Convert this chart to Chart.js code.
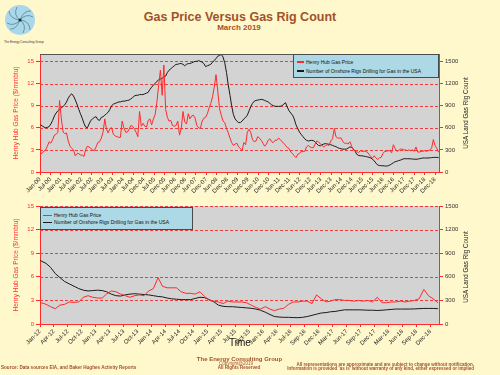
<!DOCTYPE html>
<html>
<head>
<meta charset="utf-8">
<script src="https://cdn.jsdelivr.net/npm/chart.js@4.4.1/dist/chart.umd.min.js"></script>
<style>
html,body{margin:0;padding:0;}
body{width:500px;height:375px;background:#FFF8CC;position:relative;overflow:hidden;font-family:"Liberation Sans",Arial,sans-serif;}
.abs{position:absolute;white-space:nowrap;}
.brown{color:#A0522D;}
.vt{position:absolute;white-space:nowrap;transform:translate(-50%,-50%) rotate(-90deg);line-height:1;}
.legend{position:absolute;background:#ADD8E6;border:1px solid #4a4a4a;box-sizing:border-box;}
.lgline{position:absolute;height:1.5px;}
.lgtext{position:absolute;font-size:5px;line-height:5px;color:#111;white-space:nowrap;}
canvas{position:absolute;left:0;}
</style>
</head>
<body>
<!-- logo -->
<svg class="abs" style="left:5px;top:5px" width="30" height="30" viewBox="0 0 30 30">
  <circle cx="15" cy="15" r="15" fill="#a9d8ea"/>
  <g fill="none" stroke="#2f4f5f" stroke-width="0.5">
    <path d="M15 15 Q 21 8 28 12"/>
    <path d="M15 15 Q 22 20 18 28"/>
    <path d="M15 15 Q 9 22 2 18"/>
    <path d="M15 15 Q 8 10 12 2"/>
    <path d="M15 15 Q 19 5 26 6"/>
    <path d="M15 15 Q 25 16 25 25"/>
    <path d="M15 15 Q 11 25 5 24"/>
    <path d="M15 15 Q 5 14 4 6"/>
  </g>
  <circle cx="15" cy="15" r="1.5" fill="#1c2c34"/>
</svg>
<div class="abs" style="left:4px;top:41px;font-size:3px;line-height:3px;color:#333;">The Energy Consulting Group</div>

<div class="abs brown" style="left:240px;top:16.5px;transform:translate(-50%,-50%);font-size:12.5px;font-weight:bold;line-height:1;">Gas Price Versus Gas Rig Count</div>
<div class="abs brown" style="left:239px;top:28px;transform:translate(-50%,-50%);font-size:8px;font-weight:bold;line-height:1;">March 2019</div>

<canvas id="topChart" width="500" height="200" style="top:0px"></canvas>
<canvas id="bottomChart" width="500" height="155" style="top:195px"></canvas>

<!-- axis titles -->
<div class="vt" style="left:15.5px;top:113px;font-size:6.5px;color:#FF3030;">Henry Hub Gas Price ($/mmbtu)</div>
<div class="vt" style="left:466px;top:113px;font-size:6.3px;color:#222;">USA Land Gas Rig Count</div>
<div class="vt" style="left:15.5px;top:265px;font-size:6.5px;color:#FF3030;">Henry Hub Gas Price ($/mmbtu)</div>
<div class="vt" style="left:466px;top:267px;font-size:6.3px;color:#222;">USA Land Gas Rig Count</div>
<div class="abs" style="left:240px;top:343px;transform:translate(-50%,-50%);font-size:10px;line-height:1;color:#111;">Time</div>

<!-- legends -->
<div class="legend" style="left:293px;top:54px;width:146px;height:24px;"></div>
<div class="lgline" style="left:297px;top:61px;width:7px;background:#FF2A2A;"></div>
<div class="lgtext" style="left:306px;top:59.5px;">Henry Hub Gas Price</div>
<div class="lgline" style="left:297px;top:70px;width:7px;background:#1a1a1a;"></div>
<div class="lgtext" style="left:306px;top:68.5px;">Number of Onshore Rigs Drilling for Gas in the USA</div>

<div class="legend" style="left:40px;top:207px;width:153px;height:23px;"></div>
<div class="lgline" style="left:43px;top:214.5px;width:9px;background:#FF2A2A;"></div>
<div class="lgtext" style="left:54px;top:212.5px;">Henry Hub Gas Price</div>
<div class="lgline" style="left:43px;top:221.5px;width:9px;background:#1a1a1a;"></div>
<div class="lgtext" style="left:54px;top:219.5px;">Number of Onshore Rigs Drilling for Gas in the USA</div>

<!-- footer -->
<div class="abs brown" style="left:1px;top:366px;font-size:4.6px;line-height:4.6px;font-weight:bold;">Source: Data sources EIA, and Baker Hughes Activity Reports</div>
<div class="abs brown" style="left:239.5px;top:359px;transform:translate(-50%,-50%);font-size:6px;line-height:1;font-weight:bold;">The Energy Consulting Group</div>
<div class="abs brown" style="left:236px;top:363.5px;transform:translate(-50%,-50%);font-size:4.5px;line-height:1;">Copyright@2019</div>
<div class="abs brown" style="left:239px;top:368px;transform:translate(-50%,-50%);font-size:4.5px;line-height:1;font-weight:bold;">All Rights Reserved</div>
<div class="abs brown" style="right:26px;top:363px;font-size:4.5px;line-height:4.5px;font-weight:bold;text-align:right;">All representations are approximate and are subject to change without notification.</div>
<div class="abs brown" style="right:26px;top:367px;font-size:4.5px;line-height:4.5px;font-weight:bold;text-align:right;">Information is provided 'as is' without warranty of any kind, either expressed or implied</div>

<script>
// ---------- DATA ----------
// monthly series, Jan 2000 .. Feb 2019
const gasPrice = [
  2.4, 2.6, 2.8, 3.0, 3.5, 4.1, 3.9, 4.4, 5.0, 5.1, 5.4, 9.7,      // 2000
  7.2, 5.4, 5.2, 5.3, 4.2, 3.5, 3.2, 3.0, 2.2, 2.5, 2.5, 2.3,      // 2001
  2.3, 2.1, 3.0, 3.5, 3.4, 3.2, 3.0, 2.9, 3.4, 4.0, 4.1, 4.6,      // 2002
  5.4, 7.2, 5.8, 5.3, 5.9, 6.0, 5.1, 4.9, 4.8, 4.7, 4.7, 6.9,      // 2003
  6.0, 5.4, 5.4, 5.8, 6.3, 6.2, 5.9, 5.4, 4.8, 8.2, 6.2, 6.6,      // 2004
  6.2, 6.1, 7.0, 7.2, 6.4, 7.2, 7.8, 9.5, 11.8, 13.8, 10.4, 14.5,  // 2005
  8.5, 7.4, 6.9, 7.0, 6.3, 6.2, 6.3, 6.9, 5.0, 5.9, 8.2, 6.8,      // 2006
  6.5, 7.9, 7.2, 7.6, 7.7, 7.3, 6.3, 6.0, 5.9, 6.9, 7.3, 7.4,      // 2007
  7.9, 8.7, 9.3, 10.2, 11.5, 13.2, 11.0, 8.6, 7.7, 6.9, 6.7, 5.9,  // 2008
  5.3, 4.6, 4.0, 3.6, 3.8, 3.9, 3.4, 3.2, 2.9, 4.0, 3.7, 5.4,      // 2009
  5.8, 5.3, 4.4, 4.1, 4.2, 4.8, 4.6, 4.3, 3.9, 3.5, 3.8, 4.3,      // 2010
  4.5, 4.1, 4.0, 4.3, 4.3, 4.6, 4.4, 4.1, 3.9, 3.6, 3.3, 3.2,      // 2011
  2.7, 2.5, 2.2, 1.95, 2.4, 2.5, 2.8, 2.75, 2.8, 3.4, 3.6, 3.4,    // 2012
  3.3, 3.3, 3.8, 4.2, 4.1, 3.8, 3.6, 3.4, 3.6, 3.7, 3.6, 4.2,      // 2013
  4.5, 5.9, 4.8, 4.6, 4.6, 4.6, 4.1, 3.9, 3.9, 3.8, 4.1, 3.5,      // 2014
  3.0, 2.9, 2.8, 2.6, 2.9, 2.8, 2.8, 2.8, 2.7, 2.4, 2.1, 1.9,      // 2015
  2.2, 1.9, 1.7, 1.9, 2.0, 2.5, 2.8, 2.8, 2.9, 2.9, 2.6, 3.7,      // 2016
  3.2, 2.8, 2.9, 3.1, 3.1, 3.0, 3.0, 2.9, 3.0, 2.9, 3.0, 2.8,      // 2017
  3.4, 2.7, 2.7, 2.8, 2.8, 2.9, 2.8, 2.9, 3.0, 3.2, 4.4, 3.6,      // 2018
  3.2, 2.7                                                         // 2019
];
const rigCount = [
  640, 625, 610, 600, 605, 615, 650, 700, 760, 800, 830, 850,
  870, 890, 910, 950, 1000, 1040, 1060, 1030, 980, 920, 850, 790,
  730, 660, 610, 600, 650, 700, 720, 740, 750, 710, 700, 740,
  750, 770, 790, 810, 850, 900, 920, 930, 940, 950, 950, 960,
  960, 965, 970, 975, 990, 1010, 1030, 1040, 1040, 1050, 1050, 1050,
  1060, 1070, 1080, 1120, 1150, 1180, 1200, 1230, 1250, 1260, 1270, 1290,
  1300, 1350, 1380, 1400, 1420, 1440, 1460, 1460, 1470, 1470, 1460, 1440,
  1460, 1470, 1470, 1480, 1490, 1500, 1500, 1510, 1500, 1490, 1470, 1430,
  1440, 1450, 1460, 1490, 1510, 1540, 1570, 1580, 1595, 1560, 1480, 1350,
  1180, 1040, 900, 780, 720, 690, 670, 670, 690, 720, 740, 770,
  830, 890, 930, 960, 970, 975, 980, 985, 980, 970, 960, 950,
  930, 910, 900, 890, 890, 890, 890, 900, 920, 940, 880, 830,
  800, 770, 720, 640, 590, 540, 510, 480, 450, 430, 420, 425,
  430, 425, 410, 380, 360, 355, 370, 380, 385, 380, 375, 370,
  360, 350, 345, 330, 320, 315, 310, 310, 310, 325, 340, 335,
  310, 280, 240, 225, 220, 220, 215, 210, 205, 200, 190, 175,
  150, 120, 95, 88, 85, 85, 82, 80, 85, 95, 110, 125,
  140, 145, 155, 160, 170, 180, 180, 180, 180, 178, 175, 175,
  172, 175, 180, 185, 190, 190, 190, 190, 192, 195, 198, 198,
  198, 195
];
const topTickLabels = ['Jan-00','Jul-00','Jan-01','Jul-01','Jan-02','Jul-02','Jan-03','Jul-03','Jan-04','Jul-04',
  'Dec-04','Jul-05','Dec-05','Jun-06','Dec-06','Jun-07','Dec-07','Jun-08','Dec-08','Jun-09','Dec-09','Jun-10',
  'Dec-10','Jun-11','Dec-11','Jun-12','Dec-12','Jun-13','Dec-13','Jun-14','Dec-14','Jun-15','Dec-15','Jun-16',
  'Dec-16','Jun-17','Dec-17','Jun-18','Dec-18'];
const bottomTickLabels = ['Jan-12','Apr-12','Jul-12','Oct-12','Jan-13','Apr-13','Jul-13','Oct-13','Jan-14','Apr-14',
  'Jul-14','Oct-14','Jan-15','Apr-15','Jul-15','Oct-15','Jan-16','Apr-16','Jul-16','Sep-16','Dec-16','Mar-17',
  'Jun-17','Sep-17','Dec-17','Mar-18','Jun-18','Sep-18','Dec-18'];
const priceTicks = [0, 3, 6, 9, 12, 15];
const rigTicks = [0, 300, 600, 900, 1200, 1500];

// ---------- BUILD ----------
const RED = '#FF2A2A';
const GRID_RED = '#F03C3C';
const DAY = 86400000;
const ORIGIN = Date.UTC(2000, 0, 7);            // first weekly date on the axis
const monthX = i => (Date.UTC(2000, i, 15) - ORIGIN) / DAY;
const priceData = gasPrice.map((v, i) => ({x: monthX(i), y: v}));
const rigData = rigCount.map((v, i) => ({x: monthX(i), y: v}));

Chart.defaults.font.family = "'Liberation Sans', Arial, sans-serif";

const plotBg = {
  id: 'plotBg',
  beforeDraw(chart) {
    const {ctx, chartArea: a} = chart;
    ctx.save();
    ctx.fillStyle = '#D3D3D3';
    ctx.fillRect(a.left, a.top, a.right - a.left, a.bottom - a.top);
    ctx.restore();
  },
  beforeDatasetsDraw(chart) {
    // dashed red gridlines placed by the left value scale
    const {ctx, chartArea: a, scales} = chart;
    ctx.save();
    ctx.strokeStyle = GRID_RED;
    ctx.lineWidth = 1;
    ctx.setLineDash([3, 2]);
    priceTicks.forEach(v => {
      if (v === 0) return;
      const y = Math.round(scales.y.getPixelForValue(v)) + 0.5;
      ctx.beginPath();
      ctx.moveTo(a.left, y);
      ctx.lineTo(a.right, y);
      ctx.stroke();
    });
    ctx.restore();
  },
  afterDatasetsDraw(chart, args, opts) {
    if (!opts.topBorder) return;
    const {ctx, chartArea: a} = chart;
    ctx.save();
    ctx.strokeStyle = '#555';
    ctx.lineWidth = 1;
    ctx.beginPath();
    ctx.moveTo(a.left, a.top + 0.5);
    ctx.lineTo(a.right, a.top + 0.5);
    ctx.stroke();
    ctx.restore();
  }
};

function build(id, o) {
  return new Chart(document.getElementById(id), {
    type: 'line',
    data: {
      datasets: [
        {data: priceData, yAxisID: 'y', borderColor: RED, borderWidth: 1, pointRadius: 0, tension: 0},
        {data: rigData, yAxisID: 'y1', borderColor: '#1a1a1a', borderWidth: 1, pointRadius: 0, tension: 0}
      ]
    },
    options: {
      responsive: false, animation: false, devicePixelRatio: 1,
      layout: {padding: {top: o.padTop, left: 0, right: 0, bottom: 0}},
      plugins: {legend: {display: false}, tooltip: {enabled: false}, plotBg: {topBorder: o.topBorder}},
      scales: {
        x: {
          type: 'linear', min: o.xMin, max: o.xMax,
          afterBuildTicks: s => { s.ticks = o.labels.map((_, i) => ({value: o.xMin + i * o.step})); },
          afterFit: s => { s.height = o.xHeight; },
          ticks: {autoSkip: false, minRotation: 45, maxRotation: 45, padding: 1, color: '#222',
                  font: {size: 6}, callback: (v, i) => o.labels[i]},
          grid: {drawOnChartArea: false, drawTicks: true, tickLength: 3, tickColor: RED, color: RED},
          border: {display: true, color: RED, width: 1}
        },
        y: {
          position: 'left', min: 0, max: o.yMax,
          afterBuildTicks: s => { s.ticks = priceTicks.map(v => ({value: v})); },
          afterFit: s => { s.width = 40; },
          ticks: {color: RED, font: {size: 6}, padding: 2, callback: v => String(v)},
          grid: {drawOnChartArea: false, drawTicks: true, tickLength: 4, tickColor: RED, color: RED},
          border: {display: true, color: RED, width: 1}
        },
        y1: {
          position: 'right', min: 0, max: o.y1Max,
          afterBuildTicks: s => { s.ticks = rigTicks.map(v => ({value: v})); },
          afterFit: s => { s.width = 61; },
          ticks: {color: '#333', font: {size: 6}, padding: 2, callback: v => String(v)},
          grid: {drawOnChartArea: false, drawTicks: true, tickLength: 4, tickColor: RED, color: RED},
          border: {display: true, color: RED, width: 1}
        }
      }
    },
    plugins: [plotBg]
  });
}

// top: Jan-2000 .. Feb-2019, 26-week label spacing
build('topChart', {padTop: 54, xHeight: 28, xMin: 0, xMax: 6986, step: 182, labels: topTickLabels,
  yMax: 16, y1Max: 1600, topBorder: true});
// bottom: Jan-2012 .. Feb-2019, 13-week label spacing
build('bottomChart', {padTop: 11, xHeight: 26, xMin: 4382, xMax: 6986, step: 91, labels: bottomTickLabels,
  yMax: 15, y1Max: 1500, topBorder: false});
</script>
</body>
</html>
